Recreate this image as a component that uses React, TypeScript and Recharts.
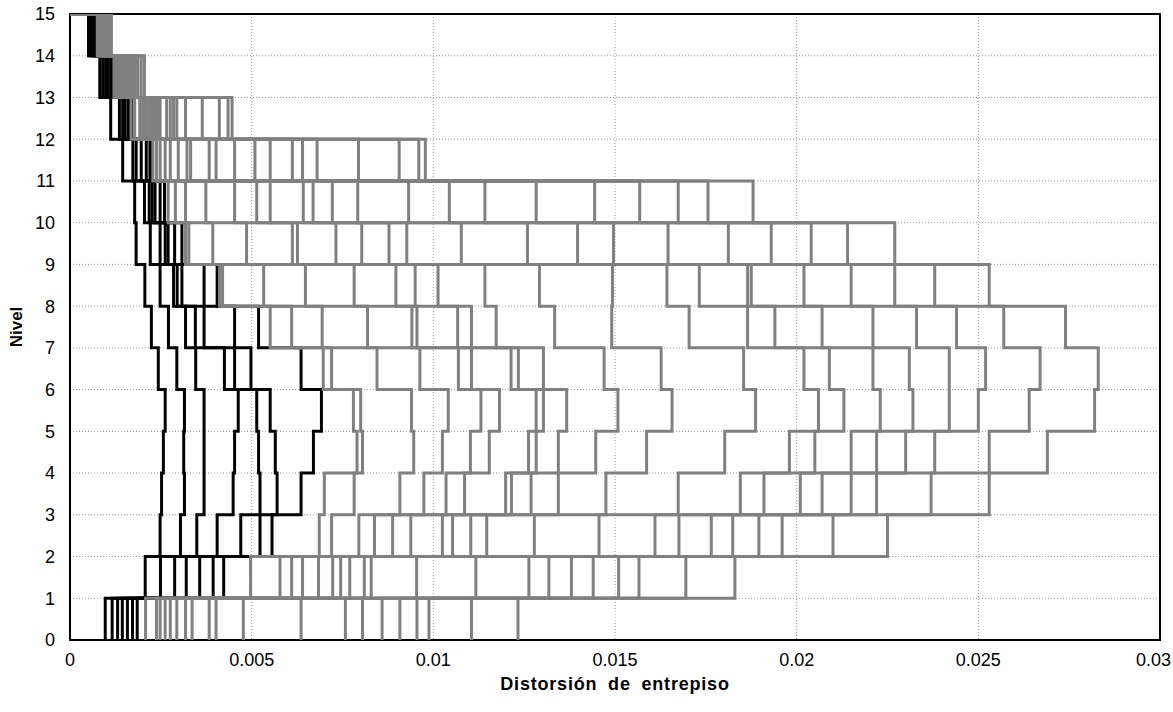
// Interstory drift profiles (15 levels), step lines drawn with Recharts Scatter + line
import React from "react"
import {
  CartesianGrid,
  ReferenceArea,
  Scatter,
  ScatterChart,
  XAxis,
  YAxis,
} from "recharts"

const levels = [0, 1, 2, 3, 4, 5, 6, 7, 8, 9, 10, 11, 12, 13, 14, 15]
const xTicks = [0, 0.005, 0.01, 0.015, 0.02, 0.025, 0.03]

// black profiles: drift of each storey (storey 1 = level 0 to 1), sorted low to high
const black01 = [0.00097, 0.00116, 0.00131, 0.00144, 0.00158, 0.00172, 0.00185]
const black02 = [0.00207, 0.00249, 0.00288, 0.0032, 0.00357, 0.00394, 0.00423]
const black03 = [0.00248, 0.00304, 0.00349, 0.00405, 0.0047, 0.00523, 0.00556]
const black04 = [0.00252, 0.00315, 0.00369, 0.00449, 0.00523, 0.0057, 0.00636]
const black05 = [0.00257, 0.00313, 0.00369, 0.00453, 0.00519, 0.00565, 0.0067]
const black06 = [0.00262, 0.00315, 0.00369, 0.00463, 0.00514, 0.00551, 0.00692]
const black07 = [0.00243, 0.00294, 0.00346, 0.00425, 0.00453, 0.00498, 0.00636]
const black08 = [0.00224, 0.00271, 0.00318, 0.00345, 0.00369, 0.00453, 0.00519]
const black09 = [0.00206, 0.00248, 0.00285, 0.00295, 0.00308, 0.00369, 0.00405]
const black10 = [0.00182, 0.00221, 0.00248, 0.00262, 0.0027, 0.00288, 0.00308]
const black11 = [0.00178, 0.00205, 0.00218, 0.00226, 0.00234, 0.00248, 0.0026]
const black12 = [0.00145, 0.00173, 0.00182, 0.00196, 0.0021, 0.0022, 0.00226]
const black13 = [0.00112, 0.00136, 0.00145, 0.0015, 0.00159, 0.00164, 0.0017]
const black14 = [0.00082, 0.0009, 0.00098, 0.00105, 0.00112, 0.00117, 0.0012]
const black15 = [0.00051, 0.00055, 0.00061, 0.00065, 0.0007, 0.00072, 0.00075]

// gray profiles, same layout
const gray01 = [0.00208, 0.00238, 0.00248, 0.00262, 0.00276, 0.00294, 0.00318, 0.00336, 0.00383, 0.00402, 0.00477, 0.00636, 0.00758, 0.00805, 0.00859, 0.00908, 0.00955, 0.00988, 0.01105, 0.01233]
const gray02 = [0.00497, 0.00578, 0.0061, 0.0064, 0.00684, 0.00723, 0.00745, 0.0077, 0.0081, 0.00829, 0.00954, 0.01117, 0.01263, 0.01318, 0.0138, 0.0144, 0.0151, 0.01566, 0.01695, 0.0183]
const gray03 = [0.00686, 0.0072, 0.00795, 0.00838, 0.00888, 0.00938, 0.01025, 0.01053, 0.01103, 0.01147, 0.01278, 0.01456, 0.0161, 0.01676, 0.01765, 0.01824, 0.01896, 0.0196, 0.021, 0.0225]
const gray04 = [0.007, 0.00782, 0.00908, 0.00974, 0.01035, 0.01086, 0.01199, 0.01215, 0.01269, 0.01344, 0.01475, 0.01674, 0.01845, 0.0191, 0.0201, 0.0207, 0.0215, 0.0222, 0.0237, 0.0253]
const gray05 = [0.0079, 0.00805, 0.00946, 0.01025, 0.01102, 0.01154, 0.01262, 0.01283, 0.01344, 0.01447, 0.01587, 0.01802, 0.0198, 0.0205, 0.0215, 0.0222, 0.023, 0.0238, 0.0253, 0.0269]
const gray06 = [0.0078, 0.008, 0.0094, 0.01041, 0.01131, 0.01182, 0.01283, 0.01303, 0.01367, 0.01508, 0.01657, 0.01887, 0.0206, 0.0213, 0.0223, 0.0232, 0.0242, 0.025, 0.0264, 0.0282]
const gray07 = [0.00697, 0.0072, 0.00845, 0.00963, 0.01069, 0.01105, 0.01214, 0.01234, 0.01303, 0.0147, 0.01627, 0.01854, 0.0202, 0.0209, 0.0221, 0.0231, 0.0242, 0.0252, 0.0267, 0.0283]
const gray08 = [0.00551, 0.0061, 0.00694, 0.00819, 0.00941, 0.00955, 0.01067, 0.01105, 0.01173, 0.01334, 0.01491, 0.01704, 0.01865, 0.0194, 0.0207, 0.0221, 0.0233, 0.0244, 0.0257, 0.0274]
const gray09 = [0.00412, 0.0042, 0.00533, 0.00648, 0.00782, 0.00897, 0.0095, 0.01013, 0.01142, 0.01292, 0.01493, 0.01643, 0.01732, 0.01865, 0.01875, 0.0202, 0.0215, 0.0227, 0.0238, 0.0253]
const gray10 = [0.00318, 0.00327, 0.00393, 0.00486, 0.00612, 0.00626, 0.00732, 0.00803, 0.00878, 0.00927, 0.01077, 0.01259, 0.01397, 0.01496, 0.01646, 0.01812, 0.0193, 0.0204, 0.0214, 0.0227]
const gray11 = [0.0027, 0.0029, 0.00318, 0.00374, 0.00453, 0.00514, 0.00551, 0.00642, 0.00669, 0.00722, 0.00792, 0.00932, 0.01044, 0.01142, 0.01283, 0.01444, 0.01568, 0.01674, 0.01756, 0.0188]
const gray12 = [0.00228, 0.00238, 0.00248, 0.00262, 0.00276, 0.00298, 0.00322, 0.00332, 0.00383, 0.00402, 0.00453, 0.00509, 0.00551, 0.00612, 0.0064, 0.0068, 0.00794, 0.00906, 0.0096, 0.00978]
const gray13 = [0.00168, 0.00178, 0.00192, 0.002, 0.00206, 0.00213, 0.0022, 0.00227, 0.00234, 0.00241, 0.00248, 0.00266, 0.00276, 0.00285, 0.00294, 0.00318, 0.00364, 0.00411, 0.00435, 0.00446]
const gray14 = [0.00121, 0.00124, 0.00128, 0.00131, 0.00135, 0.00138, 0.00142, 0.00146, 0.0015, 0.00153, 0.00157, 0.0016, 0.00164, 0.00168, 0.00172, 0.00176, 0.00182, 0.00187, 0.00196, 0.00205]
const gray15 = [0.00075, 0.00078, 0.0008, 0.00083, 0.00085, 0.00087, 0.00088, 0.0009, 0.00093, 0.00094, 0.00096, 0.00099, 0.001, 0.00102, 0.00104, 0.00107, 0.00108, 0.0011, 0.00111, 0.00114]

const blackByStorey = [black01, black02, black03, black04, black05, black06, black07, black08, black09, black10, black11, black12, black13, black14, black15]
const grayByStorey = [gray01, gray02, gray03, gray04, gray05, gray06, gray07, gray08, gray09, gray10, gray11, gray12, gray13, gray14, gray15]

// k-th profile as a step path: vertical at each storey drift, horizontal at each floor
function profile(byStorey: number[][], k: number) {
  const pts: { x: number; y: number }[] = []
  byStorey.forEach((drifts, i) => {
    pts.push({ x: drifts[k], y: levels[i] })
    pts.push({ x: drifts[k], y: levels[i + 1] })
  })
  pts.push({ x: 0, y: levels[levels.length - 1] })
  return pts
}

const blackProfiles = black01.map((_, k) => profile(blackByStorey, k))
const grayProfiles = gray01.map((_, k) => profile(grayByStorey, k))

const FONT = '"Liberation Sans", Arial, sans-serif'
const CHART_W = 1173
const tickStyle = { fontSize: 18, fill: "#000", fontFamily: FONT }

const noDot = () => <g />

// x tick that stays inside the picture at the right edge
const XTick = (props: any) => {
  const { x, y, payload } = props
  const label = String(payload.value)
  const atEdge = x > CHART_W - 25
  return (
    <text
      x={atEdge ? CHART_W - 2 : x}
      y={y}
      dy={14}
      textAnchor={atEdge ? "end" : "middle"}
      fontSize={18}
      fontFamily={FONT}
      fill="#000"
    >
      {label}
    </text>
  )
}

export default function App() {
  return (
    <div style={{ position: "absolute", left: 0, top: 0, width: CHART_W, height: 712, background: "#fff" }}>
      <ScatterChart
        width={CHART_W}
        height={712}
        margin={{ top: 14, right: 13, bottom: 22, left: 10 }}
      >
        <CartesianGrid stroke="#9a9a9a" strokeDasharray="1 2" />
        <XAxis
          type="number"
          dataKey="x"
          domain={[0, 0.03]}
          ticks={xTicks}
          tick={<XTick />}
          tickLine={false}
          axisLine={false}
          tickMargin={6}
          height={50}
          allowDataOverflow
        />
        <YAxis
          type="number"
          dataKey="y"
          domain={[0, 15]}
          ticks={levels}
          interval={0}
          tick={tickStyle}
          tickLine={false}
          axisLine={false}
          tickMargin={9}
          width={60}
          allowDataOverflow
        />
        {blackProfiles.map((pts, k) => (
          <Scatter
            key={"b" + k}
            data={pts}
            fill="#000"
            line={{ stroke: "#000", strokeWidth: 3 }}
            shape={noDot}
            legendType="none"
            isAnimationActive={false}
          />
        ))}
        {grayProfiles.map((pts, k) => (
          <Scatter
            key={"g" + k}
            data={pts}
            fill="#808080"
            line={{ stroke: "#808080", strokeWidth: 3 }}
            shape={noDot}
            legendType="none"
            isAnimationActive={false}
          />
        ))}
        <ReferenceArea
          x1={0}
          x2={0.03}
          y1={0}
          y2={15}
          fill="none"
          fillOpacity={0}
          stroke="#000"
          strokeWidth={2}
          ifOverflow="visible"
        />
      </ScatterChart>
      <svg
        width={CHART_W}
        height={712}
        style={{ position: "absolute", left: 0, top: 0, pointerEvents: "none" }}
      >
        <text
          x={615}
          y={690}
          textAnchor="middle"
          fontFamily={FONT}
          fontWeight="bold"
          fontSize={18}
          letterSpacing={0.8}
          wordSpacing={5}
        >
          Distorsión de entrepiso
        </text>
        <text
          x={22}
          y={327}
          textAnchor="middle"
          fontFamily={FONT}
          fontWeight="bold"
          fontSize={17}
          transform="rotate(-90 22 327)"
        >
          Nivel
        </text>
      </svg>
    </div>
  )
}
